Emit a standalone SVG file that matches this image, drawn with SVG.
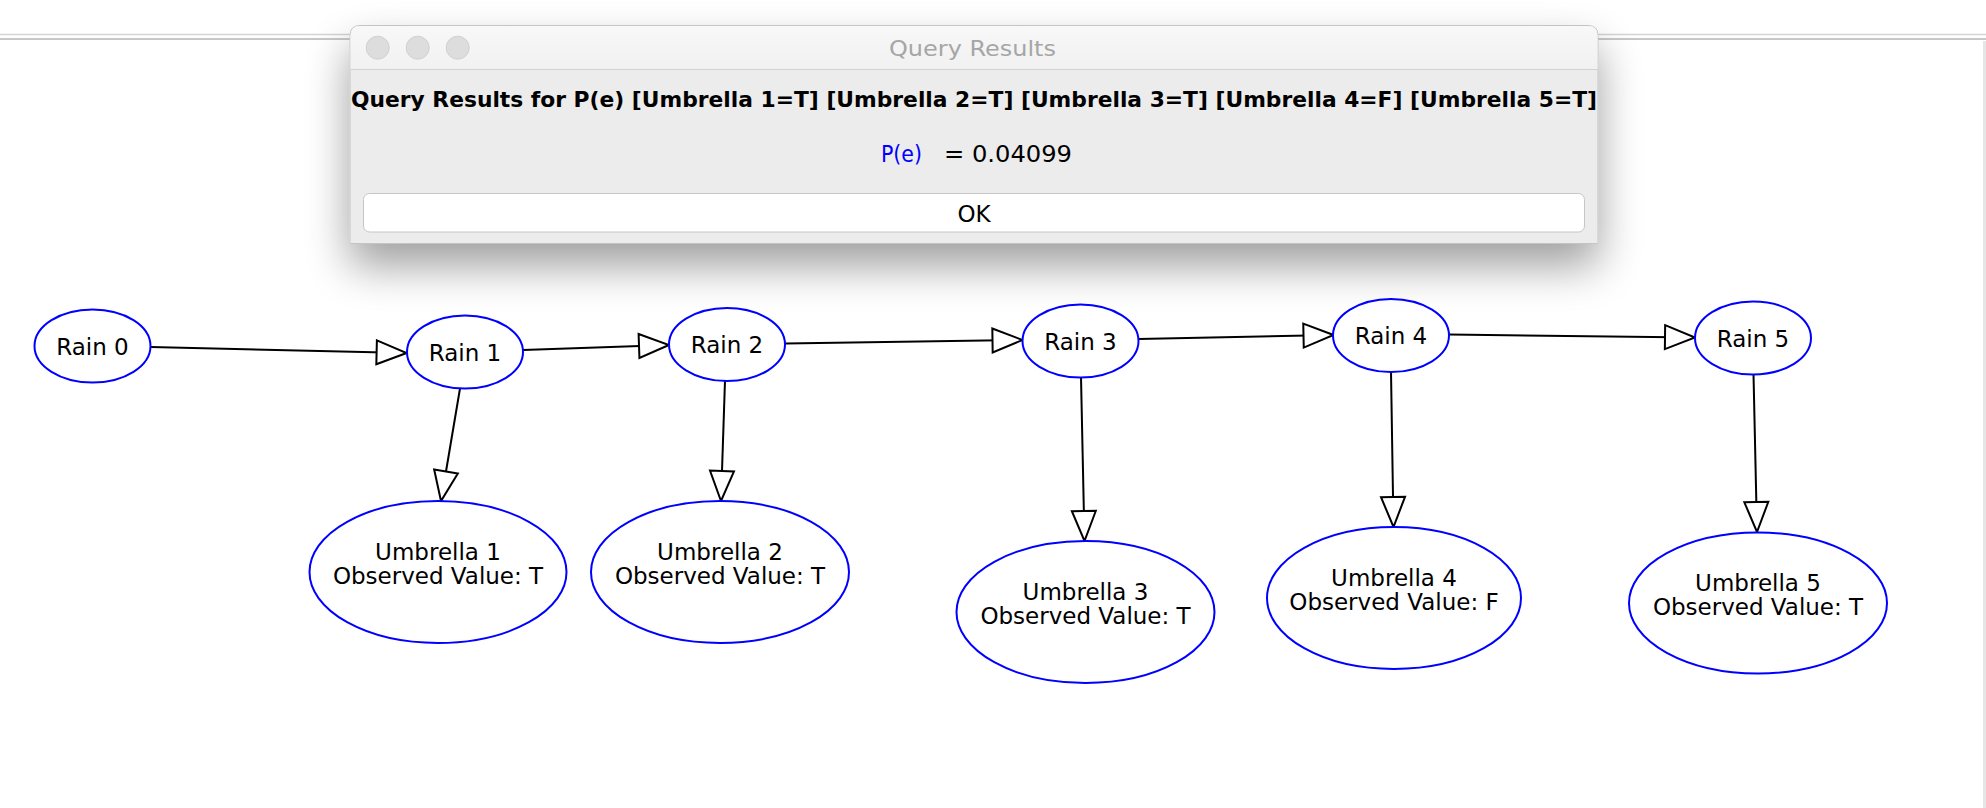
<svg xmlns="http://www.w3.org/2000/svg" width="1986" height="808" viewBox="0 0 1986 808">
<defs>
<style>
.node ellipse { fill: #ffffff; stroke: #0000ff; stroke-width: 2; }
.lbl { font-family: "DejaVu Sans", "Noto Sans", sans-serif; font-size: 23px; fill: #000000; text-anchor: middle; }
.edge { stroke: #000000; stroke-width: 2; fill: none; marker-end: url(#arr); }
.dlg { font-family: "DejaVu Sans", "Noto Sans", sans-serif; }
</style>
<marker id="arr" markerUnits="userSpaceOnUse" viewBox="-2 -14 34 28" refX="30" refY="0" markerWidth="34" markerHeight="28" orient="auto">
<path d="M0,-12 L30,0 L0,12 Z" fill="#ffffff" stroke="#000000" stroke-width="2"/>
</marker>
<filter id="shadow" x="-15%" y="-50%" width="130%" height="220%">
<feGaussianBlur in="SourceAlpha" stdDeviation="22"/>
<feOffset dy="22" result="b"/>
<feComponentTransfer><feFuncA type="linear" slope="0.38"/></feComponentTransfer>
<feMerge><feMergeNode/><feMergeNode in="SourceGraphic"/></feMerge>
</filter>
<linearGradient id="tb" x1="0" y1="0" x2="0" y2="1">
<stop offset="0" stop-color="#f8f8f8"/><stop offset="1" stop-color="#f1f1f1"/>
</linearGradient>
</defs>
<rect x="0" y="0" width="1986" height="808" fill="#ffffff"/>
<line x1="0" y1="34.5" x2="1986" y2="34.5" stroke="#d4d4d4" stroke-width="1.5"/>
<line x1="0" y1="39" x2="1986" y2="39" stroke="#b4b4b4" stroke-width="1.5"/>
<rect x="1983" y="41" width="3" height="767" fill="#e6e6e6"/>

<g id="connectors">
<path class="edge" d="M150.7,347 L406.6,353"/>
<path class="edge" d="M523,350 L669,345"/>
<path class="edge" d="M785.5,343.5 L1022.5,340"/>
<path class="edge" d="M1138.5,339 L1333.5,335"/>
<path class="edge" d="M1449,334.5 L1695,337.5"/>
<path class="edge" d="M460,388.5 L441,501"/>
<path class="edge" d="M725,380.5 L721,501"/>
<path class="edge" d="M1081,377 L1084.5,541"/>
<path class="edge" d="M1391,371.5 L1393.5,527"/>
<path class="edge" d="M1753.5,374 L1757,532"/>
</g>

<g id="rain0" class="node"><ellipse cx="92.5" cy="346" rx="58" ry="36.5"/><text class="lbl" x="92.5" y="354.5">Rain 0</text></g>
<g id="rain1" class="node"><ellipse cx="465" cy="352" rx="58" ry="36.5"/><text class="lbl" x="465" y="360.5">Rain 1</text></g>
<g id="rain2" class="node"><ellipse cx="727" cy="344.5" rx="58" ry="36.5"/><text class="lbl" x="727" y="353">Rain 2</text></g>
<g id="rain3" class="node"><ellipse cx="1080.5" cy="341" rx="58" ry="36.5"/><text class="lbl" x="1080.5" y="349.5">Rain 3</text></g>
<g id="rain4" class="node"><ellipse cx="1391" cy="335.5" rx="58" ry="36.5"/><text class="lbl" x="1391" y="344">Rain 4</text></g>
<g id="rain5" class="node"><ellipse cx="1753" cy="338" rx="58" ry="36.5"/><text class="lbl" x="1753" y="346.5">Rain 5</text></g>

<g id="umbrella1" class="node"><ellipse cx="438" cy="572" rx="128.5" ry="71"/><text class="lbl" x="438" y="560">Umbrella 1</text><text class="lbl" x="438" y="583.5">Observed Value: T</text></g>
<g id="umbrella2" class="node"><ellipse cx="720" cy="572" rx="129" ry="71"/><text class="lbl" x="720" y="560">Umbrella 2</text><text class="lbl" x="720" y="583.5">Observed Value: T</text></g>
<g id="umbrella3" class="node"><ellipse cx="1085.5" cy="612" rx="129" ry="71"/><text class="lbl" x="1085.5" y="600">Umbrella 3</text><text class="lbl" x="1085.5" y="623.5">Observed Value: T</text></g>
<g id="umbrella4" class="node"><ellipse cx="1394" cy="598" rx="127" ry="71"/><text class="lbl" x="1394" y="586">Umbrella 4</text><text class="lbl" x="1394" y="609.5">Observed Value: F</text></g>
<g id="umbrella5" class="node"><ellipse cx="1758" cy="603" rx="129" ry="70.5"/><text class="lbl" x="1758" y="591">Umbrella 5</text><text class="lbl" x="1758" y="614.5">Observed Value: T</text></g>

<g id="dialog" class="dlg">
<path d="M350,243.5 V35.5 Q350,25.5 360,25.5 H1588 Q1598,25.5 1598,35.5 V243.5 Z" fill="#ececec" stroke="#c4c4c4" stroke-width="1" filter="url(#shadow)"/>
<path d="M350.5,69 V35.5 Q350.5,26 360,26 H1588 Q1597.5,26 1597.5,35.5 V69 Z" fill="url(#tb)"/>
<line x1="350.5" y1="69.5" x2="1597.5" y2="69.5" stroke="#d2d2d2" stroke-width="1"/>
<circle cx="377.7" cy="47.7" r="11.5" fill="#dddddd" stroke="#d0d0d0" stroke-width="1"/>
<circle cx="417.7" cy="47.7" r="11.5" fill="#dddddd" stroke="#d0d0d0" stroke-width="1"/>
<circle cx="457.7" cy="47.7" r="11.5" fill="#dddddd" stroke="#d0d0d0" stroke-width="1"/>
<text x="972.5" y="56" font-size="22" fill="#a6a6a6" text-anchor="middle" textLength="167" lengthAdjust="spacingAndGlyphs">Query Results</text>
<text x="974" y="107" font-size="22" font-weight="bold" fill="#000000" text-anchor="middle" textLength="1246" lengthAdjust="spacingAndGlyphs">Query Results for P(e) [Umbrella 1=T] [Umbrella 2=T] [Umbrella 3=T] [Umbrella 4=F] [Umbrella 5=T]</text>
<text x="881" y="162" font-size="23" fill="#0000ff" textLength="41" lengthAdjust="spacingAndGlyphs">P(e)</text>
<text x="944" y="162" font-size="23" fill="#000000" textLength="128" lengthAdjust="spacingAndGlyphs">= 0.04099</text>
<rect x="363.5" y="193.5" width="1221" height="38.5" rx="6" fill="#ffffff" stroke="#c6c6c6" stroke-width="1"/>
<text x="974" y="221.5" font-size="23" fill="#000000" text-anchor="middle">OK</text>
</g>
</svg>
